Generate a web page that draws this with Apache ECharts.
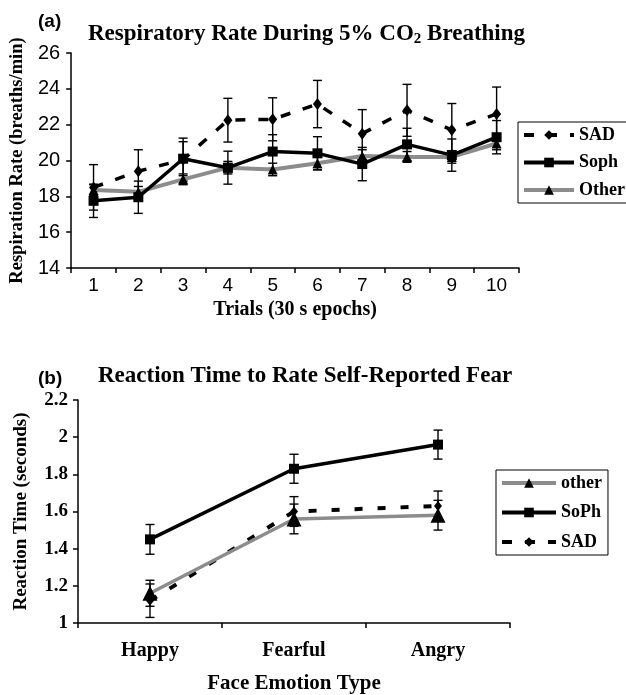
<!DOCTYPE html>
<html>
<head>
<meta charset="utf-8">
<script src="https://cdn.jsdelivr.net/npm/echarts@6/dist/echarts.min.js"></script>
<style>
html,body{margin:0;padding:0;background:#fff;}
#chart{width:626px;height:695px;}
</style>
</head>
<body>
<div id="chart"></div>
<script>
// ---------- Panel (a): respiratory rate ----------
const trialLabels = ['1','2','3','4','5','6','7','8','9','10'];
const sadResp    = [18.5, 19.4, 20.05, 22.25, 22.3, 23.15, 21.5, 22.8, 21.7, 22.6];
const sadRespErr = [1.27, 1.2, 1.2, 1.22, 1.2, 1.32, 1.34, 1.45, 1.48, 1.5];
const sophResp    = [17.75, 17.95, 20.1, 19.6, 20.5, 20.4, 19.8, 20.9, 20.3, 21.3];
const sophRespErr = [0.93, 0.9, 0.95, 0.92, 0.94, 0.93, 0.93, 0.9, 0.9, 0.93];
const otherResp    = [18.35, 18.25, 18.95, 19.6, 19.5, 19.85, 20.25, 20.2, 20.2, 20.95];
const otherRespErr = [0.3, 0.3, 0.3, 0.35, 0.35, 0.35, 0.35, 0.3, 0.35, 0.35];

// ---------- Panel (b): reaction time ----------
const emotionLabels = ['Happy', 'Fearful', 'Angry'];
const otherRT    = [1.16, 1.56, 1.58];
const otherRTErr = [0.07, 0.08, 0.08];
const sophRT    = [1.45, 1.83, 1.96];
const sophRTErr = [0.08, 0.078, 0.078];
const sadRT    = [1.12, 1.60, 1.63];
const sadRTErr = [0.09, 0.08, 0.08];

const SERIF = 'Liberation Serif';
const SANS = 'Liberation Sans';
const GRAY = '#8c8c8c';

function errData(vals, errs) {
  return vals.map((v, i) => [i, v - errs[i], v + errs[i]]);
}
function errRender(params, api) {
  const x = api.value(0);
  const pLo = api.coord([x, api.value(1)]);
  const pHi = api.coord([x, api.value(2)]);
  const hw = 4.5;
  const st = { stroke: '#000', lineWidth: 1.4 };
  return {
    type: 'group',
    children: [
      { type: 'line', shape: { x1: pLo[0], y1: pLo[1], x2: pHi[0], y2: pHi[1] }, style: st },
      { type: 'line', shape: { x1: pLo[0] - hw, y1: pLo[1], x2: pLo[0] + hw, y2: pLo[1] }, style: st },
      { type: 'line', shape: { x1: pHi[0] - hw, y1: pHi[1], x2: pHi[0] + hw, y2: pHi[1] }, style: st }
    ]
  };
}
function errSeries(name, axisIdx, vals, errs) {
  return {
    name: name, type: 'custom', xAxisIndex: axisIdx, yAxisIndex: axisIdx,
    renderItem: errRender, data: errData(vals, errs),
    encode: { x: 0, y: [1, 2] }, z: 3, silent: true
  };
}

const chart = echarts.init(document.getElementById('chart'), null, { renderer: 'canvas' });

const axisLineStyle = { show: true, lineStyle: { color: '#000', width: 1.5 } };
const tickStyle = { show: true, length: 5, lineStyle: { color: '#000', width: 1.5 } };
const legendText = { fontFamily: SERIF, fontWeight: 'bold', fontSize: 18, color: '#000' };

const option = {
  animation: false,
  backgroundColor: '#fff',
  title: [
    { text: '(a)', left: 33, top: 7, textStyle: { fontFamily: SANS, fontWeight: 'bold', fontSize: 19, color: '#000' } },
    { text: 'Respiratory Rate During 5% CO{sub|2} Breathing', left: 83, top: 16,
      textStyle: { fontFamily: SERIF, fontWeight: 'bold', fontSize: 23, color: '#000',
        rich: { sub: { fontFamily: SERIF, fontWeight: 'bold', fontSize: 15, color: '#000', padding: [11, 0, 0, 0] } } } },
    { text: '(b)', left: 33, top: 364, textStyle: { fontFamily: SANS, fontWeight: 'bold', fontSize: 19, color: '#000' } },
    { text: 'Reaction Time to Rate Self-Reported Fear', left: 93, top: 360,
      textStyle: { fontFamily: SERIF, fontWeight: 'bold', fontSize: 23, color: '#000' } }
  ],
  legend: [
    { data: ['SAD', 'Soph', 'Other'], orient: 'vertical', left: 518, top: 122,
      itemWidth: 50, itemHeight: 12, itemGap: 9.5, padding: [4, 6, 4, 4],
      borderColor: '#000', borderWidth: 1, selectedMode: false,
      lineStyle: { width: 4 }, textStyle: legendText },
    { data: ['other', 'SoPh', 'SAD'], orient: 'vertical', left: 496, top: 470,
      itemWidth: 54, itemHeight: 12, itemGap: 11.5, padding: [4, 6, 4, 4],
      borderColor: '#000', borderWidth: 1, selectedMode: false,
      lineStyle: { width: 4 }, textStyle: legendText }
  ],
  grid: [
    { left: 69, top: 53, width: 450, height: 215 },
    { left: 78, top: 400, width: 432, height: 223 }
  ],
  xAxis: [
    { type: 'category', gridIndex: 0, data: trialLabels, boundaryGap: true,
      axisLine: axisLineStyle, axisTick: Object.assign({ interval: 0 }, tickStyle),
      axisLabel: { interval: 0, margin: 8, fontFamily: SANS, fontSize: 19, color: '#000' },
      name: 'Trials (30 s epochs)', nameLocation: 'middle', nameGap: 32,
      nameTextStyle: { fontFamily: SERIF, fontWeight: 'bold', fontSize: 20, color: '#000' } },
    { type: 'category', gridIndex: 1, data: emotionLabels, boundaryGap: true,
      axisLine: axisLineStyle, axisTick: Object.assign({ interval: 0 }, tickStyle),
      axisLabel: { interval: 0, margin: 18, fontFamily: SERIF, fontWeight: 'bold', fontSize: 20, color: '#000' },
      name: 'Face Emotion Type', nameLocation: 'middle', nameGap: 50,
      nameTextStyle: { fontFamily: SERIF, fontWeight: 'bold', fontSize: 21, color: '#000' } }
  ],
  yAxis: [
    { type: 'value', gridIndex: 0, min: 14, max: 26, interval: 2,
      axisLine: axisLineStyle, axisTick: tickStyle, splitLine: { show: false },
      axisLabel: { margin: 11, fontFamily: SANS, fontSize: 20, color: '#000' },
      name: 'Respiration Rate (breaths/min)', nameLocation: 'middle', nameGap: 40, nameRotate: 90,
      nameTextStyle: { fontFamily: SERIF, fontWeight: 'bold', fontSize: 18.5, color: '#000' } },
    { type: 'value', gridIndex: 1, min: 1, max: 2.2, interval: 0.2,
      axisLine: axisLineStyle, axisTick: tickStyle, splitLine: { show: false },
      axisLabel: { margin: 10, fontFamily: SERIF, fontWeight: 'bold', fontSize: 19, color: '#000' },
      name: 'Reaction Time (seconds)', nameLocation: 'middle', nameGap: 47, nameRotate: 90,
      nameTextStyle: { fontFamily: SERIF, fontWeight: 'bold', fontSize: 19, color: '#000' } }
  ],
  series: [
    // panel a
    { name: 'Other', type: 'line', xAxisIndex: 0, yAxisIndex: 0, data: otherResp,
      symbol: 'triangle', symbolSize: 10, z: 4,
      lineStyle: { color: GRAY, width: 4 }, itemStyle: { color: '#000' } },
    { name: 'Soph', type: 'line', xAxisIndex: 0, yAxisIndex: 0, data: sophResp,
      symbol: 'rect', symbolSize: 10, z: 5,
      lineStyle: { color: '#000', width: 3.5 }, itemStyle: { color: '#000' } },
    { name: 'SAD', type: 'line', xAxisIndex: 0, yAxisIndex: 0, data: sadResp,
      symbol: 'diamond', symbolSize: [9, 12], z: 6,
      lineStyle: { color: '#000', width: 3.5, type: [10, 13] }, itemStyle: { color: '#000' } },
    errSeries('errOtherA', 0, otherResp, otherRespErr),
    errSeries('errSophA', 0, sophResp, sophRespErr),
    errSeries('errSadA', 0, sadResp, sadRespErr),
    // panel b
    { name: 'SAD', type: 'line', xAxisIndex: 1, yAxisIndex: 1, data: sadRT,
      symbol: 'diamond', symbolSize: [8, 10], z: 4,
      lineStyle: { color: '#000', width: 4, type: [8, 15] }, itemStyle: { color: '#000' } },
    { name: 'other', type: 'line', xAxisIndex: 1, yAxisIndex: 1, data: otherRT,
      symbol: 'triangle', symbolSize: 15, z: 5,
      lineStyle: { color: GRAY, width: 3.5 }, itemStyle: { color: '#000' } },
    { name: 'SoPh', type: 'line', xAxisIndex: 1, yAxisIndex: 1, data: sophRT,
      symbol: 'rect', symbolSize: 10, z: 6,
      lineStyle: { color: '#000', width: 3.5 }, itemStyle: { color: '#000' } },
    errSeries('errOtherB', 1, otherRT, otherRTErr),
    errSeries('errSophB', 1, sophRT, sophRTErr),
    errSeries('errSadB', 1, sadRT, sadRTErr)
  ]
};
chart.setOption(option);
</script>
</body>
</html>
